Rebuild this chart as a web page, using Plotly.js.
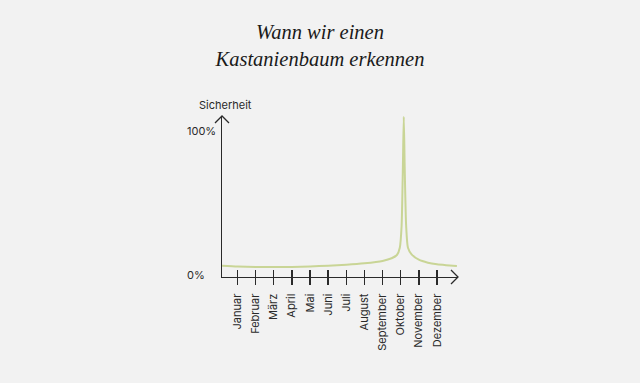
<!DOCTYPE html>
<html>
<head>
<meta charset="utf-8">
<script src="https://cdn.plot.ly/plotly-3.0.1.min.js"></script>
<style>html,body{margin:0;padding:0;background:#f2f2f2;}</style>
</head>
<body>
<div id="chart" style="width:640px;height:383px;"></div>
<script>
const months = ["Januar","Februar","März","April","Mai","Juni","Juli","August","September","Oktober","November","Dezember"];
const monthPos = [1,2,3,4,5,6,7,8,9,10,11,12];
const curveX = [0.15, 1, 2, 3, 4, 5, 6, 7, 8, 9, 9.5, 9.8, 9.95, 10.05, 10.12, 10.17, 10.22, 10.3, 10.4, 10.6, 11, 11.5, 12, 12.5, 13.1];
const curveY = [7.7, 7.2, 6.9, 6.8, 6.9, 7.2, 7.7, 8.4, 9.4, 11.0, 12.8, 15.2, 20, 35, 75, 109.5, 75, 35, 20, 15.5, 11.8, 9.8, 8.7, 8.1, 7.6];
const yTicks = [0, 100];
const yTickText = ["0%", "100%"];
const titleText = "Wann wir einen<br>Kastanienbaum erkennen";

const L = 222, R = 458, T = 116, B = 277;
const W = 640, H = 383;
const ink = '#2a2a2a';

const trace = {
  x: curveX, y: curveY, type: 'scatter', mode: 'lines',
  line: {color: '#c9d596', width: 2, shape: 'spline', smoothing: 0.6},
  cliponaxis: false, hoverinfo: 'skip', xaxis: 'x', yaxis: 'y'
};
const ghost = {x: [curveX[0]], y: [0], type: 'scatter', mode: 'markers', marker: {size: 0.1, opacity: 0}, xaxis: 'x2', yaxis: 'y', hoverinfo: 'skip', showlegend: false};

const xr = [0.145, 13.16];
const layout = {
  width: W, height: H,
  paper_bgcolor: '#f2f2f2', plot_bgcolor: '#f2f2f2',
  margin: {l: L, r: W - R, t: T, b: H - B, pad: 0},
  showlegend: false,
  title: {
    text: titleText, font: {family: 'Liberation Serif', size: 20.5, color: '#1a1a1a', style: 'italic'},
    x: 0.5, xanchor: 'center', y: 1 - 39 / H, yanchor: 'middle', xref: 'container', yref: 'container'
  },
  xaxis: {
    range: xr, tickvals: monthPos, ticktext: months, tickangle: -90,
    ticks: 'inside', ticklen: 7, tickwidth: 1.4, tickcolor: ink, ticklabelstandoff: 11,
    showline: true, linecolor: ink, linewidth: 1.3, showgrid: false, zeroline: false,
    tickfont: {family: 'Inter', size: 11, color: ink}, fixedrange: true
  },
  xaxis2: {
    range: xr, overlaying: 'x', anchor: 'y', side: 'bottom', tickvals: monthPos, ticktext: months.map(() => ''),
    ticks: 'outside', ticklen: 7, tickwidth: 1.4, tickcolor: ink,
    showline: false, showgrid: false, zeroline: false, fixedrange: true
  },
  yaxis: {
    range: [0, 110], showline: true, linecolor: ink, linewidth: 1.3,
    showgrid: false, zeroline: false, ticks: '', showticklabels: false, fixedrange: true
  },
  annotations: [
    {text: 'Sicherheit', xref: 'paper', yref: 'paper', x: (197 - L) / (R - L), y: 1 + (T - 105) / (B - T),
     xanchor: 'left', yanchor: 'middle', showarrow: false, font: {family: 'Inter', size: 11, color: ink}}
  ].concat(yTicks.map((v, i) => ({
    text: yTickText[i], xref: 'paper', yref: 'y', x: (185 - L) / (R - L), y: v, yshift: i === 0 ? 2 : 0,
    xanchor: 'left', yanchor: 'middle', showarrow: false, font: {family: 'Inter', size: 11, color: ink}
  }))),
  shapes: [
    {type: 'path', xref: 'paper', yref: 'paper', xsizemode: 'pixel', ysizemode: 'pixel', xanchor: 1, yanchor: 0,
     path: 'M-7,-7 L0,0 L-7,7', line: {color: ink, width: 1.3}},
    {type: 'path', xref: 'paper', yref: 'paper', xsizemode: 'pixel', ysizemode: 'pixel', xanchor: 0, yanchor: 1,
     path: 'M-7,-7 L0,0 L7,-7', line: {color: ink, width: 1.3}}
  ]
};
Plotly.newPlot('chart', [trace, ghost], layout, {displayModeBar: false, staticPlot: true});
</script>
</body>
</html>
